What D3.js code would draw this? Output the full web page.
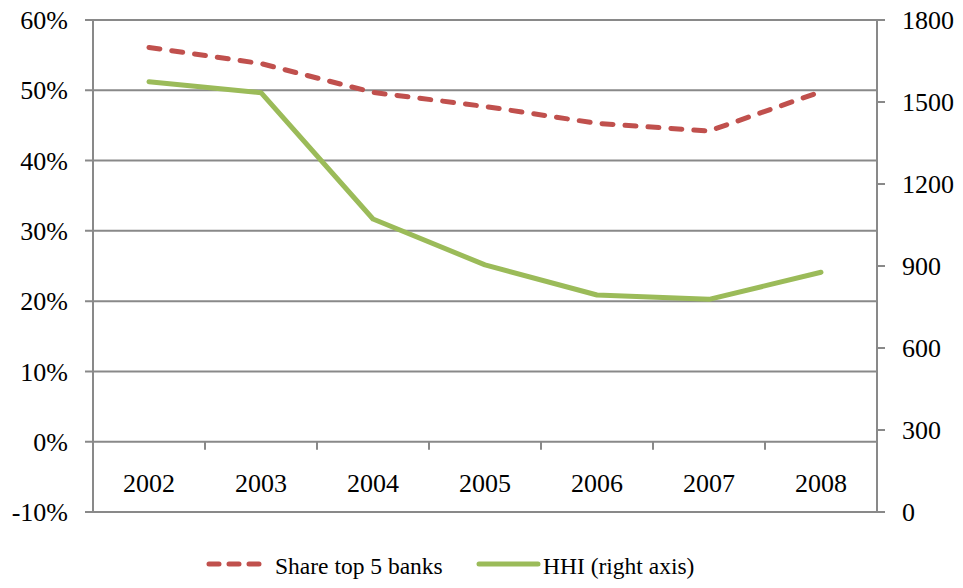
<!DOCTYPE html>
<html>
<head>
<meta charset="utf-8">
<script src="https://cdn.jsdelivr.net/npm/d3@7"></script>
<style>
  body { margin: 0; background: #fff; }
  text { font-family: "Liberation Serif", "Times New Roman", serif; fill: #000; }
</style>
</head>
<body>
<div class="chart"></div>
<script>
// DATA ***********************************************
var years = ["2002", "2003", "2004", "2005", "2006", "2007", "2008"];
var shareTop5 = [56.1, 53.8, 49.7, 47.7, 45.3, 44.2, 49.8];   // % (left axis)
var hhi = [1574, 1534, 1072, 904, 794, 778, 877];              // right axis
var leftTicks = [-10, 0, 10, 20, 30, 40, 50, 60];
var rightTicks = [0, 300, 600, 900, 1200, 1500, 1800];
var legendLabels = ["Share top 5 banks", "HHI (right axis)"];

// SETUP ***********************************************
var width = 963, height = 588;
var plotLeft = 93, plotRight = 877, plotTop = 20, plotBottom = 512;
var gridColor = "#898989";
var red = "#C0504D", green = "#9BBB59";

var svg = d3.select("div.chart").append("svg")
        .attr("width", width)
        .attr("height", height);

var x = d3.scaleBand().domain(years).range([plotLeft, plotRight]);
var yL = d3.scaleLinear().domain([-10, 60]).range([plotBottom, plotTop]);
var yR = d3.scaleLinear().domain([0, 1800]).range([plotBottom, plotTop]);

// gridlines (from left axis ticks)
svg.append("g").selectAll("line")
        .data(leftTicks)
        .enter().append("line")
        .attr("x1", plotLeft - 8)
        .attr("x2", plotRight)
        .attr("y1", d => yL(d))
        .attr("y2", d => yL(d))
        .attr("stroke", gridColor)
        .attr("stroke-width", 2);

// left axis labels
svg.append("g").selectAll("text")
        .data(leftTicks)
        .enter().append("text")
        .attr("x", 68)
        .attr("y", d => yL(d))
        .attr("dy", "0.35em")
        .attr("text-anchor", "end")
        .attr("font-size", 26)
        .text(d => d + "%");

// right axis: ticks + labels
var rAxis = svg.append("g");
rAxis.selectAll("line")
        .data(rightTicks)
        .enter().append("line")
        .attr("x1", plotRight)
        .attr("x2", plotRight + 8)
        .attr("y1", d => yR(d))
        .attr("y2", d => yR(d))
        .attr("stroke", gridColor)
        .attr("stroke-width", 2);
rAxis.selectAll("text")
        .data(rightTicks)
        .enter().append("text")
        .attr("x", 902)
        .attr("y", d => yR(d))
        .attr("dy", "0.35em")
        .attr("font-size", 26)
        .text(d => d);

// vertical axis lines
svg.append("line")
        .attr("x1", plotLeft).attr("x2", plotLeft)
        .attr("y1", plotTop).attr("y2", plotBottom)
        .attr("stroke", gridColor).attr("stroke-width", 2);
svg.append("line")
        .attr("x1", plotRight).attr("x2", plotRight)
        .attr("y1", plotTop).attr("y2", plotBottom)
        .attr("stroke", gridColor).attr("stroke-width", 2);

// category axis at 0%
var y0 = yL(0);
svg.append("g").selectAll("line")
        .data(years.slice(1))
        .enter().append("line")
        .attr("x1", d => x(d))
        .attr("x2", d => x(d))
        .attr("y1", y0)
        .attr("y2", y0 + 8)
        .attr("stroke", gridColor)
        .attr("stroke-width", 2);
svg.append("g").selectAll("text")
        .data(years)
        .enter().append("text")
        .attr("x", d => x(d) + x.bandwidth() / 2)
        .attr("y", 492)
        .attr("text-anchor", "middle")
        .attr("font-size", 26)
        .text(d => d);

// LINES ***********************************************
var cx = function (i) { return x(years[i]) + x.bandwidth() / 2; };

var lineL = d3.line().x((d, i) => cx(i)).y(d => yL(d));
var lineR = d3.line().x((d, i) => cx(i)).y(d => yR(d));

svg.append("path")
        .datum(hhi)
        .attr("d", lineR)
        .attr("fill", "none")
        .attr("stroke", green)
        .attr("stroke-width", 5)
        .attr("stroke-linecap", "round")
        .attr("stroke-linejoin", "round");

svg.append("path")
        .datum(shareTop5)
        .attr("d", lineL)
        .attr("fill", "none")
        .attr("stroke", red)
        .attr("stroke-width", 5)
        .attr("stroke-dasharray", "11,12")
        .attr("stroke-linecap", "round")
        .attr("stroke-linejoin", "round");

// LEGEND ***********************************************
var legend = svg.append("g");
legend.append("line")
        .attr("x1", 209).attr("x2", 268)
        .attr("y1", 564).attr("y2", 564)
        .attr("stroke", red).attr("stroke-width", 5)
        .attr("stroke-dasharray", "10,10")
        .attr("stroke-linecap", "round");
legend.append("text")
        .attr("x", 275).attr("y", 574)
        .attr("font-size", 23.5)
        .text(legendLabels[0]);
legend.append("line")
        .attr("x1", 479).attr("x2", 538)
        .attr("y1", 564).attr("y2", 564)
        .attr("stroke", green).attr("stroke-width", 5)
        .attr("stroke-linecap", "round");
legend.append("text")
        .attr("x", 543).attr("y", 574)
        .attr("font-size", 23.5)
        .text(legendLabels[1]);
</script>
</body>
</html>
